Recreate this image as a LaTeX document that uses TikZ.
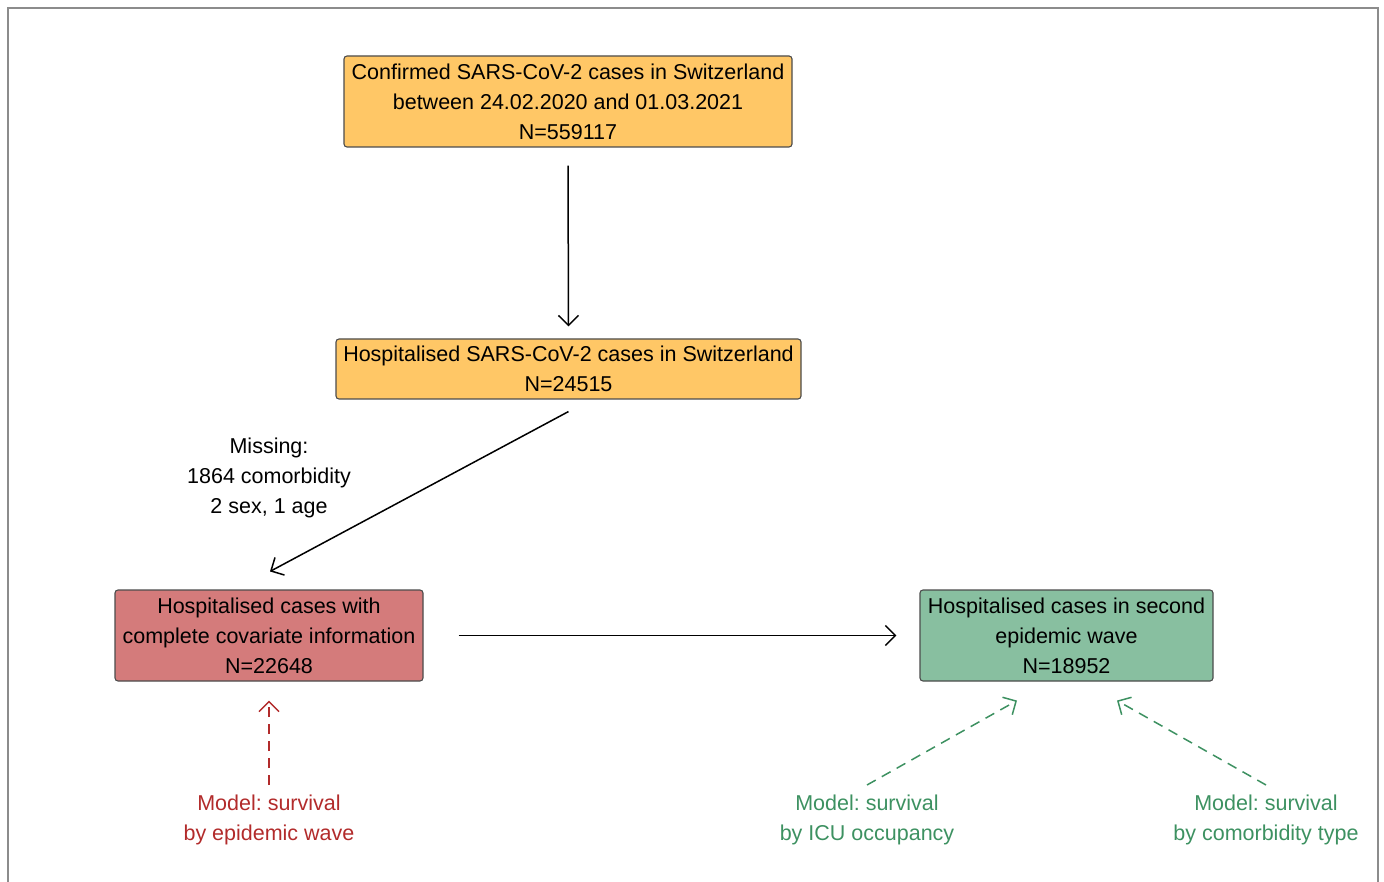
\documentclass[tikz,border=0pt]{standalone}
\usepackage{fontspec}
\setmainfont{Liberation Sans}
\usetikzlibrary{arrows.meta}
\definecolor{boxorange}{HTML}{FFC766}
\definecolor{boxred}{HTML}{D47B7B}
\definecolor{boxgreen}{HTML}{88BFA0}
\definecolor{txtred}{HTML}{B22B2B}
\definecolor{txtgreen}{HTML}{3D9161}
\frenchspacing
\begin{document}
\begin{tikzpicture}[x=1pt,y=-1pt,>={Straight Barb[length=10pt,width=20pt]},
  font=\fontsize{21.5}{30}\selectfont]
  \tikzstyle{box}=[draw=black!70,line width=1.1pt,rounded corners=3pt,align=center,inner sep=0pt]
  \tikzstyle{lbl}=[align=center,inner sep=0pt]
  \tikzstyle{flow}=[line width=1.5pt,->]
  \tikzstyle{model}=[line width=1.5pt,->,dash pattern=on 10pt off 7pt]
  \useasboundingbox (0,0) rectangle (1384,882);
  \draw[gray!90,line width=2pt] (8,890) -- (8,8) -- (1378,8) -- (1378,890);
  \node[box,fill=boxorange,minimum width=448pt,minimum height=91pt] (conf) at (568,101.5)
    {Confirmed SARS-CoV-2 cases in Switzerland\\between 24.02.2020 and 01.03.2021\\N=559117};
  \node[box,fill=boxorange,minimum width=465pt,minimum height=60pt] (hosp) at (568.5,369)
    {Hospitalised SARS-CoV-2 cases in Switzerland\\N=24515};
  \node[box,fill=boxred,minimum width=308pt,minimum height=91pt] (compl) at (269,635.5)
    {Hospitalised cases with\\complete covariate information\\N=22648};
  \node[box,fill=boxgreen,minimum width=293pt,minimum height=91pt] (second) at (1066.5,635.5)
    {Hospitalised cases in second\\epidemic wave\\N=18952};
  \node[lbl] (miss) at (269,477.5) {Missing:\\1864 comorbidity\\2 sex, 1 age};
  \node[lbl,anchor=north,text=txtred] (mwave) at (269,795) {Model: survival\\by epidemic wave};
  \node[lbl,anchor=north,text=txtgreen] (micu) at (867,795) {Model: survival\\by ICU occupancy};
  \node[lbl,anchor=north,text=txtgreen] (mcom) at (1266,795) {Model: survival\\by comorbidity type};
  \draw[flow] ([yshift=-18pt]conf.south) -- ([yshift=12pt]hosp.north);
  \draw[flow] ([yshift=-12pt]hosp.south) -- ([xshift=1pt,yshift=18pt]compl.north);
  \draw[flow] ([xshift=35pt]compl.east) -- ([xshift=-23pt]second.west);
  \draw[model,txtred] ([yshift=10pt]mwave.north) -- ([yshift=-19pt]compl.south);
  \draw[model,txtgreen] ([yshift=10pt]micu.north) -- ([xshift=-49.5pt,yshift=-19pt]second.south);
  \draw[model,txtgreen] ([yshift=10pt]mcom.north) -- ([xshift=50.5pt,yshift=-19pt]second.south);
\end{tikzpicture}
\end{document}
